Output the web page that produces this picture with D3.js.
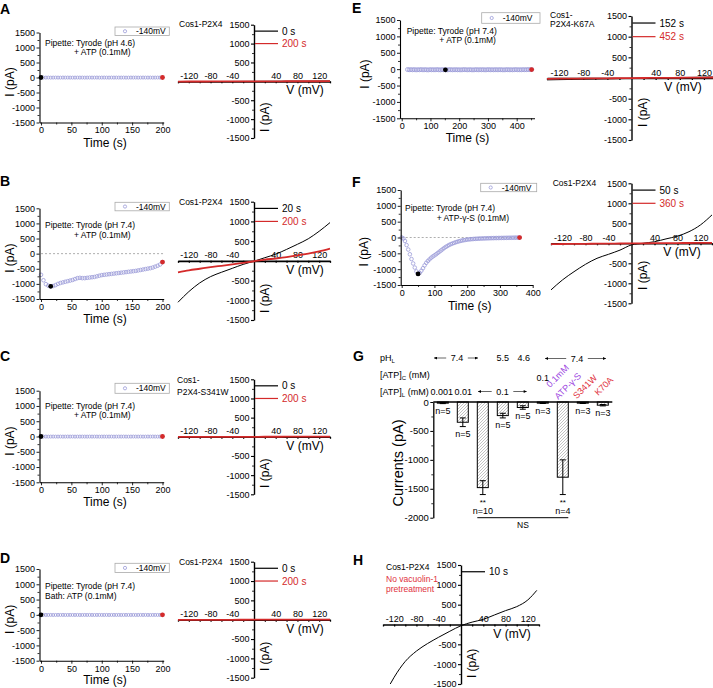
<!DOCTYPE html>
<html><head><meta charset="utf-8">
<script src="https://cdn.jsdelivr.net/npm/d3@7"></script>
<style>body{margin:0;background:#fff}svg{display:block}text{font-family:Arial,"Liberation Sans",Helvetica,sans-serif}</style>
</head><body><svg id="fig" width="713" height="688"></svg>
<script>
// ---------------- DATA ----------------
const times200 = [0,4,8,12,16,20,24,28,32,36,40,44,48,52,56,60,64,68,72,76,80,84,88,92,96,100,104,108,112,116,120,124,128,132,136,140,144,148,152,156,160,164,168,172,176,180,184,188,192,196,200];
const A_current = [0,-2,-3,-2,-4,-3,-2,-3,-4,-2,-3,-2,-3,-4,-3,-2,-3,-2,-4,-3,-2,-3,-3,-2,-4,-3,-2,-3,-4,-2,-3,-2,-3,-3,-2,-4,-3,-2,-3,-2,-4,-3,-2,-3,-3,-2,-4,-3,-2,-3,0];
const B_current = [-700,-880,-1010,-1060,-1080,-1070,-1040,-1000,-970,-950,-930,-910,-890,-870,-840,-810,-800,-810,-810,-800,-790,-780,-770,-750,-730,-710,-700,-690,-680,-670,-660,-650,-640,-630,-620,-610,-600,-590,-580,-570,-555,-540,-525,-510,-495,-480,-460,-430,-400,-360,-280];
const C_current = [0,-3,-2,-4,-3,-2,-3,-3,-2,-4,-3,-2,-3,-2,-4,-3,-3,-2,-3,-4,-2,-3,-2,-3,-4,-3,-2,-3,-3,-2,-4,-3,-2,-3,-2,-3,-4,-3,-2,-3,-3,-2,-4,-3,-2,-3,-2,-3,-4,-3,0];
const D_current = [0,-2,-3,-3,-2,-4,-3,-2,-3,-2,-4,-3,-2,-3,-3,-2,-4,-3,-2,-3,-2,-3,-4,-3,-2,-3,-3,-2,-4,-3,-2,-3,-2,-4,-3,-2,-3,-3,-2,-4,-3,-2,-3,-2,-3,-4,-3,-2,-3,-3,0];
const E_time = [20,26,32,38,44,50,56,62,68,74,80,86,92,98,104,110,116,122,128,134,140,146,152,158,164,170,176,182,188,194,200,206,212,218,224,230,236,242,248,254,260,266,272,278,284,290,296,302,308,314,320,326,332,338,344,350,356,362,368,374,380,386,392,398,404,410,416,422,428,434,440,446,452];
const E_current = [-12,-18,-15,-20,-14,-22,-17,-19,-13,-21,-16,-18,-24,-15,-19,-17,-20,-14,-18,-22,-16,-19,-20,-23,-17,-15,-21,-18,-16,-20,-19,-22,-17,-14,-18,-21,-16,-19,-23,-18,-15,-20,-17,-19,-16,-22,-18,-14,-20,-17,-21,-15,-19,-18,-16,-20,-22,-17,-15,-19,-18,-21,-16,-14,-19,-17,-20,-15,-18,-16,-13,-15,-12];
const F_time = [0,5,10,15,20,25,30,35,40,45,50,55,60,65,70,75,80,85,90,95,100,105,110,115,120,125,130,135,140,145,150,155,160,165,170,175,180,185,190,195,200,205,210,215,220,225,230,235,240,245,250,255,260,265,270,275,280,285,290,295,300,305,310,315,320,325,330,335,340,345,350,355,360];
const F_current = [0,-30,-110,-240,-380,-530,-680,-820,-950,-1070,-1150,-1120,-1050,-970,-880,-800,-740,-690,-640,-600,-565,-530,-490,-450,-410,-370,-330,-295,-265,-235,-210,-190,-170,-150,-135,-120,-105,-95,-85,-75,-67,-60,-55,-50,-46,-42,-39,-36,-33,-31,-29,-27,-25,-23,-22,-20,-19,-18,-17,-16,-15,-14,-13,-12,-11,-10,-9,-8,-7,-6,-5,-4,-3];

// marked sweeps (black = early I-V, red = late I-V), in seconds
const A_marks = [0, 200], B_marks = [16, 200], C_marks = [0, 200], D_marks = [0, 200], E_marks = [152, 452], F_marks = [50, 360];

// I-V ramps (mV, pA)
const ivVoltage = [-140,-120,-100,-80,-60,-40,-20,0,20,40,60,80,100,120,140];
const A_ivEarly = [-10,-8,-7,-5,-4,-3,-1,0,1,2,3,4,5,6,8];
const A_ivLate  = [-5,-4,-4,-3,-2,-2,-1,0,1,1,2,2,3,3,4];
const B_ivEarly = [-1050,-780,-560,-400,-290,-190,-90,-10,80,170,290,420,560,750,970];
const B_ivLate  = [-290,-240,-200,-160,-125,-90,-50,-10,30,60,95,140,185,240,310];
const C_ivEarly = [-8,-7,-6,-5,-4,-3,-1,0,1,2,3,4,5,6,7];
const C_ivLate  = [-4,-4,-3,-3,-2,-2,-1,0,1,1,2,2,3,3,4];
const D_ivEarly = [-9,-8,-6,-5,-4,-3,-1,0,1,2,3,4,5,6,7];
const D_ivLate  = [-5,-4,-3,-3,-2,-2,-1,0,1,1,2,2,3,3,4];
const E_ivEarly = [-45,-40,-35,-30,-25,-20,-15,-10,-5,0,5,10,15,20,25];
const E_ivLate  = [-20,-17,-15,-12,-10,-7,-5,-2,0,2,4,6,8,10,12];
const F_ivEarly = [-1165,-915,-710,-525,-375,-275,-170,-40,0,40,110,180,290,460,710];
const F_ivLate  = [-20,-17,-15,-12,-10,-7,-5,-2,0,2,4,6,8,10,12];
const H_ivVoltage = [-127,-120,-100,-80,-60,-40,-20,0,20,40,60,80,100,120,136];
const H_iv = [-1500,-1330,-930,-670,-480,-320,-170,-30,60,130,240,350,450,620,860];

// tick labels
const timeYTicks = [-1500,-1000,-500,0,500,1000,1500];
const timeYMinor = [-1250,-750,-250,250,750,1250];
const ivYTicks = [-1500,-1000,-500,500,1000,1500];
const ivXTicks = [-120,-80,-40,40,80,120];
const ivXMinor = [-140,-120,-100,-80,-60,-40,-20,20,40,60,80,100,120,140];
const t200Ticks = [0,50,100,150,200], t200Minor = [25,75,125,175];
const t400Ticks = [0,100,200,300,400], t400Minor = [50,150,250,350,450];

// panel G
const gCategories = ["0.001","0.01","0.1","pH5.5","pH4.6","ATPc","ATPgS","S341W","K70A"];
const gMeans  = [-20,-350,-1480,-235,-95,-20,-1300,-20,-55];
const gErrors = [8,75,120,40,30,6,300,6,12];
const gN      = [5,5,10,5,5,3,4,3,3];
const gSig    = ["","","**","","","","**","",""];
const gYTicks = [-2000,-1500,-1000,-500,0];
const gYMinor = [-1750,-1250,-750,-250];
const gPH    = ["7.4","5.5","4.6","7.4"];
const gATPc  = ["0.1"];
const gATPl  = ["0.001","0.01","0.1"];

// ---------------- DRAW ----------------
const svg = d3.select('#fig');
const FONT = 'Arial, "Liberation Sans", Helvetica, sans-serif';
const BLUE = '#9a9ad8', RED = '#d42a2a', PURPLE = '#9b3fe0', LRED = '#e0303c';
const fmt = d => String(d);

function styleAxis(sel, fs, sw) {
  sel.attr('font-family', FONT).attr('font-size', fs);
  sel.select('.domain').attr('stroke-width', sw);
  sel.selectAll('.tick line').attr('stroke-width', Math.max(0.8, sw * 0.8));
}
function txt(g, x, y, s, fs, opts = {}) {
  const t = g.append('text').attr('x', x).attr('y', y).attr('font-size', fs).text(s);
  if (opts.anchor) t.attr('text-anchor', opts.anchor);
  if (opts.fill) t.attr('fill', opts.fill);
  if (opts.weight) t.attr('font-weight', opts.weight);
  return t;
}

function drawTime(c) {
  const x = d3.scaleLinear().domain(c.xDomain).range([c.x0, c.x1]);
  const y = d3.scaleLinear().domain([-1500, 1500]).range([c.yBot, c.yTop]);
  const g = svg.append('g');
  if (c.zeroTo !== undefined) {
    g.append('line').attr('x1', x(0)).attr('x2', x(c.zeroTo)).attr('y1', y(0)).attr('y2', y(0))
      .attr('stroke', '#999').attr('stroke-width', 0.8).attr('stroke-dasharray', '2,2');
  }
  const pts = c.t.map((t, i) => ({ t, v: c.v[i] }));
  g.append('g').selectAll('circle').data(pts).join('circle')
    .attr('cx', d => x(d.t)).attr('cy', d => y(d.v)).attr('r', c.r)
    .attr('fill', 'none').attr('stroke', BLUE).attr('stroke-width', 0.8);
  [[c.marks[0], '#000'], [c.marks[1], RED]].forEach(([tm, col]) => {
    const i = c.t.indexOf(tm);
    g.append('circle').attr('cx', x(tm)).attr('cy', y(c.v[i])).attr('r', 2.4).attr('fill', col);
  });
  const ya = g.append('g').attr('transform', `translate(${c.x0},0)`)
    .call(d3.axisLeft(y).tickValues(timeYTicks).tickFormat(fmt).tickSize(3).tickSizeOuter(0).tickPadding(1.5));
  styleAxis(ya, 9, 1.1);
  g.append('g').attr('transform', `translate(${c.x0},0)`)
    .call(d3.axisLeft(y).tickValues(timeYMinor).tickFormat('').tickSize(2).tickSizeOuter(0))
    .call(s => { s.select('.domain').remove(); s.selectAll('line').attr('stroke-width', 0.8); });
  const xa = g.append('g').attr('transform', `translate(0,${c.yBot})`)
    .call(d3.axisBottom(x).tickValues(c.xTicks).tickFormat(fmt).tickSize(3).tickSizeOuter(0).tickPadding(1.5));
  styleAxis(xa, 9, 1.1);
  g.append('g').attr('transform', `translate(0,${c.yBot})`)
    .call(d3.axisBottom(x).tickValues(c.xMinor).tickFormat('').tickSize(2).tickSizeOuter(0))
    .call(s => { s.select('.domain').remove(); s.selectAll('line').attr('stroke-width', 0.8); });
  // legend box
  const L = c.leg;
  g.append('rect').attr('x', L[0]).attr('y', L[1]).attr('width', L[2] - L[0]).attr('height', L[3] - L[1])
    .attr('fill', '#fff').attr('stroke', '#aaa').attr('stroke-width', 0.8);
  const lc = (L[1] + L[3]) / 2;
  g.append('circle').attr('cx', L[0] + 10).attr('cy', lc).attr('r', 1.6).attr('fill', 'none').attr('stroke', BLUE).attr('stroke-width', 0.8);
  txt(g, L[0] + 21, lc + 3, '-140mV', 8.5);
  c.notes.forEach(n => txt(g, n[1], n[2], n[0], 8.5));
  txt(g, c.titleX, c.titleY, 'Time (s)', 12, { anchor: 'middle' });
  g.append('text').attr('transform', `translate(${c.ylabX},${y(c.ylabV)}) rotate(-90)`)
    .attr('text-anchor', 'middle').attr('dy', '0.35em').attr('font-size', 12).text('I (pA)');
}

function drawIV(c) {
  const x = d3.scaleLinear().domain([-140, 140]).range([c.x0, c.x1]);
  const y = d3.scaleLinear().domain([-1500, 1500]).range([c.yBot, c.yTop]);
  const g = svg.append('g');
  const X0 = x(0), Y0 = y(0);
  const ya = g.append('g').attr('transform', `translate(${X0},0)`)
    .call(d3.axisLeft(y).tickValues(ivYTicks).tickFormat(fmt).tickSize(3).tickSizeOuter(0).tickPadding(1.5));
  styleAxis(ya, 9, 1.4);
  g.append('g').attr('transform', `translate(${X0},0)`)
    .call(d3.axisLeft(y).tickValues(timeYMinor).tickFormat('').tickSize(2).tickSizeOuter(0))
    .call(s => { s.select('.domain').remove(); s.selectAll('line').attr('stroke-width', 0.8); });
  const xt = g.append('g').attr('transform', `translate(0,${Y0})`)
    .call(d3.axisBottom(x).tickValues(ivXMinor).tickFormat('').tickSize(2).tickSizeOuter(0));
  styleAxis(xt, 9, 1.6);
  const xl = g.append('g').attr('transform', `translate(0,${Y0})`)
    .call(d3.axisTop(x).tickValues(ivXTicks).tickFormat(fmt).tickSize(0).tickPadding(2.5));
  xl.select('.domain').remove();
  styleAxis(xl, 9, 1);
  const line = d3.line().x(d => x(d[0])).y(d => y(d[1])).curve(d3.curveMonotoneX);
  c.series.forEach(s => {
    g.append('path').attr('d', line(d3.zip(s.V, s.I))).attr('fill', 'none')
      .attr('stroke', s.color).attr('stroke-width', s.w).attr('stroke-linejoin', 'round');
  });
  // legend
  const levels = [1330, 1000];
  c.series.forEach((s, k) => {
    const ly = y(levels[k]);
    g.append('line').attr('x1', X0 + 1).attr('x2', X0 + 24).attr('y1', ly).attr('y2', ly)
      .attr('stroke', s.color).attr('stroke-width', 1.2);
    txt(g, X0 + 28, ly + 3.5, s.label, 10, { fill: s.color === '#000' ? '#000' : RED });
  });
  txt(g, c.vx, Y0 + 13, 'V (mV)', 12, { anchor: 'middle' });
  g.append('text').attr('transform', `translate(${X0 + 11},${y(c.ilabV)}) rotate(-90)`)
    .attr('text-anchor', 'middle').attr('dy', '0.35em').attr('font-size', 12).text('I (pA)');
  c.title.forEach(tl => txt(g, c.titleX, tl[2], tl[0], 8.5, { fill: tl[1] }));
}

function ivSeries(early, late, labels) {
  const s = [{ V: ivVoltage, I: early, color: '#000', w: 1, label: labels[0] }];
  if (late) s.push({ V: ivVoltage, I: late, color: RED, w: 1.8, label: labels[1] });
  return s;
}

// ---- column 1 ----
drawTime({ x0: 39.5, x1: 163.7, xDomain: [-2.5, 202], yTop: 32.5, yBot: 122.5, xTicks: t200Ticks, xMinor: t200Minor,
  t: times200, v: A_current, marks: A_marks, r: 1.5, leg: [115, 27, 169.3, 35.5],
  notes: [['Pipette: Tyrode (pH 4.6)', 45, 46], ['+ ATP (0.1mM)', 74, 55]], titleX: 105, titleY: 147, ylabX: 10, ylabV: -150 });
drawIV({ x0: 178, x1: 330, yTop: 24.7, yBot: 138, series: ivSeries(A_ivEarly, A_ivLate, ['0 s', '200 s']),
  vx: 305, ilabV: -950, titleX: 179, title: [['Cos1-P2X4', '#000', 27]] });

drawTime({ x0: 39.5, x1: 163.7, xDomain: [-2.5, 202], yTop: 208.3, yBot: 299, xTicks: t200Ticks, xMinor: t200Minor,
  t: times200, v: B_current, marks: B_marks, r: 1.8, leg: [115, 202.3, 169.3, 210.8], zeroTo: 202,
  notes: [['Pipette: Tyrode (pH 7.4)', 45, 228], ['+ ATP (0.1mM)', 74, 238]], titleX: 105, titleY: 322.5, ylabX: 10, ylabV: -150 });
drawIV({ x0: 178, x1: 330, yTop: 201.7, yBot: 320, series: ivSeries(B_ivEarly, B_ivLate, ['20 s', '200 s']),
  vx: 305, ilabV: -950, titleX: 179, title: [['Cos1-P2X4', '#000', 205]] });

drawTime({ x0: 39.5, x1: 163.7, xDomain: [-2.5, 202], yTop: 390.7, yBot: 482.3, xTicks: t200Ticks, xMinor: t200Minor,
  t: times200, v: C_current, marks: C_marks, r: 1.5, leg: [115, 383.3, 169.3, 393.3],
  notes: [['Pipette: Tyrode (pH 7.4)', 45, 409], ['+ ATP (0.1mM)', 74, 418]], titleX: 105, titleY: 506, ylabX: 10, ylabV: -150 });
drawIV({ x0: 178, x1: 330, yTop: 379.3, yBot: 494.3, series: ivSeries(C_ivEarly, C_ivLate, ['0 s', '200 s']),
  vx: 305, ilabV: -950, titleX: 177, title: [['Cos1-', '#000', 383], ['P2X4-S341W', '#000', 395]] });

drawTime({ x0: 39.5, x1: 163.7, xDomain: [-2.5, 202], yTop: 569, yBot: 660.7, xTicks: t200Ticks, xMinor: t200Minor,
  t: times200, v: D_current, marks: D_marks, r: 1.5, leg: [115, 563.3, 169.3, 572.5],
  notes: [['Pipette: Tyrode (pH 7.4)', 45, 588.7], ['Bath: ATP (0.1mM)', 45, 598.7]], titleX: 105, titleY: 684, ylabX: 10, ylabV: -150 });
drawIV({ x0: 178, x1: 330, yTop: 561.7, yBot: 677.7, series: ivSeries(D_ivEarly, D_ivLate, ['0 s', '200 s']),
  vx: 305, ilabV: -950, titleX: 179, title: [['Cos1-P2X4', '#000', 565]] });

// ---- column 2 ----
drawTime({ x0: 400, x1: 534.5, xDomain: [-6, 462], yTop: 20, yBot: 118.3, xTicks: t400Ticks, xMinor: t400Minor,
  t: E_time, v: E_current, marks: E_marks, r: 2, leg: [481.7, 12.7, 540, 23.3],
  notes: [['Pipette: Tyrode (pH 7.4)', 406.7, 34], ['+ ATP (0.1mM)', 439.3, 43]], titleX: 467.5, titleY: 142, ylabX: 365, ylabV: -150 });
drawIV({ x0: 547, x1: 716, yTop: 16, yBot: 140, series: ivSeries(E_ivEarly, E_ivLate, ['152 s', '452 s']),
  vx: 683, ilabV: -830, titleX: 550, title: [['Cos1-', '#000', 18], ['P2X4-K67A', '#000', 26.7]] });

drawTime({ x0: 400.7, x1: 532.7, xDomain: [-3, 400], yTop: 190, yBot: 285, xTicks: t400Ticks.slice(0, 5), xMinor: [50,150,250,350],
  t: F_time, v: F_current, marks: F_marks, r: 1.8, leg: [480.7, 183.3, 536.7, 191.7], zeroTo: 360,
  notes: [['Pipette: Tyrode (pH 7.4)', 405, 211.3], ['+ ATP-\u03b3-S (0.1mM)', 436.7, 220.7]], titleX: 469.7, titleY: 309.5, ylabX: 364, ylabV: -450 });
drawIV({ x0: 551, x1: 712, yTop: 183.3, yBot: 303.3, series: ivSeries(F_ivEarly, F_ivLate, ['50 s', '360 s']),
  vx: 682, ilabV: -800, titleX: 552.7, title: [['Cos1-P2X4', '#000', 186]] });

drawIV({ x0: 383, x1: 539, yTop: 565, yBot: 684,
  series: [{ V: H_ivVoltage, I: H_iv, color: '#000', w: 1, label: '10 s' }],
  vx: 512, ilabV: -980, titleX: 386, title: [['Cos1-P2X4', '#000', 569.5], ['No vacuolin-1', LRED, 582], ['pretreatment', LRED, 592]] });

// ---- panel G ----
(function () {
  const g = svg.append('g');
  const defs = svg.append('defs');
  const pat = defs.append('pattern').attr('id', 'hatch').attr('patternUnits', 'userSpaceOnUse').attr('width', 3).attr('height', 3);
  pat.append('rect').attr('width', 3).attr('height', 3).attr('fill', '#fff');
  pat.append('path').attr('d', 'M-1,1 l2,-2 M0,3 l3,-3 M2,4 l2,-2').attr('stroke', '#9a9a9a').attr('stroke-width', 0.6);
  defs.append('marker').attr('id', 'arr').attr('viewBox', '0 0 6 6').attr('refX', 6).attr('refY', 3)
    .attr('markerUnits', 'userSpaceOnUse').attr('markerWidth', 4).attr('markerHeight', 3).attr('orient', 'auto')
    .append('path').attr('d', 'M0,0 L6,3 L0,6 z').attr('fill', '#000');

  const xb = d3.scaleBand().domain(gCategories).range([433.3, 612.3]).paddingInner(0.45).paddingOuter(0.2);
  const yb = d3.scaleLinear().domain([-2000, 0]).range([517.7, 402]);
  const bw = xb.bandwidth();
  const cx = i => xb(gCategories[i]) + bw / 2;
  const rows = gCategories.map((c, i) => ({ c, i, m: gMeans[i], e: gErrors[i], n: gN[i], s: gSig[i] }));

  g.selectAll('rect.bar').data(rows).join('rect')
    .attr('x', d => xb(d.c)).attr('y', yb(0)).attr('width', bw).attr('height', d => Math.max(1, yb(d.m) - yb(0)))
    .attr('fill', 'url(#hatch)').attr('stroke', '#000').attr('stroke-width', 1);
  // error bars
  rows.forEach(d => {
    const x = cx(d.i), y1 = yb(d.m + d.e), y2 = yb(d.m - d.e);
    g.append('line').attr('x1', x).attr('x2', x).attr('y1', y1).attr('y2', y2).attr('stroke', '#000').attr('stroke-width', 1);
    [y1, y2].forEach(yy => g.append('line').attr('x1', x - 3).attr('x2', x + 3).attr('y1', yy).attr('y2', yy).attr('stroke', '#000').attr('stroke-width', 1));
    const base = yb(d.m - d.e);
    if (d.s) {
      txt(g, x, base + 10.5, d.s, 8, { anchor: 'middle' });
      txt(g, x, base + 19.5, 'n=' + d.n, 9, { anchor: 'middle' });
    } else {
      txt(g, x, Math.max(base + 10, 414), 'n=' + d.n, 9, { anchor: 'middle' });
    }
  });
  // axes
  g.append('line').attr('x1', 433.3).attr('x2', 612.3).attr('y1', yb(0)).attr('y2', yb(0)).attr('stroke', '#000').attr('stroke-width', 1.3);
  const ya = g.append('g').attr('transform', 'translate(433.3,0)')
    .call(d3.axisLeft(yb).tickValues(gYTicks).tickFormat(fmt).tickSize(3).tickSizeOuter(0).tickPadding(1.5));
  styleAxis(ya, 9.5, 1.3);
  g.append('g').attr('transform', 'translate(433.3,0)')
    .call(d3.axisLeft(yb).tickValues(gYMinor).tickFormat('').tickSize(2).tickSizeOuter(0))
    .call(s => { s.select('.domain').remove(); s.selectAll('line').attr('stroke-width', 0.8); });
  g.append('text').attr('transform', 'translate(398,463) rotate(-90)').attr('text-anchor', 'middle').attr('dy', '0.35em')
    .attr('font-size', 14.5).text('Currents (pA)');
  // NS
  g.append('line').attr('x1', xb(gCategories[2])).attr('x2', xb(gCategories[6]) + bw).attr('y1', yb(-2000)).attr('y2', yb(-2000))
    .attr('stroke', '#000').attr('stroke-width', 1);
  txt(g, 523, 528, 'NS', 8.5, { anchor: 'middle' });

  // header rows
  function subLabel(y, main, sub, rest) {
    const t = g.append('text').attr('x', 380).attr('y', y).attr('font-size', 9);
    t.append('tspan').text(main);
    t.append('tspan').attr('font-size', 6).attr('dy', 2).text(sub);
    t.append('tspan').attr('dy', -2).text(rest);
  }
  subLabel(360.5, 'pH', 'L', '');
  subLabel(377.5, '[ATP]', 'C', ' (mM)');
  subLabel(394.7, '[ATP]', 'L', ' (mM)');
  function arrowGroup(label, left, right, y, mid) {
    const c = mid !== undefined ? mid : (left + right) / 2;
    const hw = label.length * 2.6 + 3;
    txt(g, c, y + 3, label, 9, { anchor: 'middle' });
    g.append('line').attr('x1', c - hw).attr('x2', left).attr('y1', y).attr('y2', y).attr('stroke', '#000').attr('stroke-width', 0.6).attr('marker-end', 'url(#arr)');
    g.append('line').attr('x1', c + hw).attr('x2', right).attr('y1', y).attr('y2', y).attr('stroke', '#000').attr('stroke-width', 0.6).attr('marker-end', 'url(#arr)');
  }
  // pH row
  arrowGroup(gPH[0], 434, 478, 358, 457);
  txt(g, cx(3), 361, gPH[1], 9, { anchor: 'middle' });
  txt(g, cx(4) + 1, 361, gPH[2], 9, { anchor: 'middle' });
  arrowGroup(gPH[3], 545, 606, 358.5, 577);
  // ATPc row
  txt(g, cx(5), 380.7, gATPc[0], 9, { anchor: 'middle' });
  // ATPl row
  txt(g, cx(0) - 1, 394.5, gATPl[0], 9, { anchor: 'middle' });
  txt(g, cx(1) + 0.5, 394.5, gATPl[1], 9, { anchor: 'middle' });
  arrowGroup(gATPl[2], 478, 526.7, 391.5, 502.5);
  // rotated labels
  const rot = [[6, -12.8, 388, '0.1mM', PURPLE], [6, -4.5, 400, 'ATP-\u03b3-S', PURPLE], [7, -6, 399.3, 'S341W', LRED], [8, -4.5, 396, 'K70A', LRED]];
  rot.forEach(r => g.append('text').attr('transform', `translate(${cx(r[0]) + r[1]},${r[2]}) rotate(-45)`)
    .attr('font-size', 9).attr('fill', r[4]).text(r[3]));
})();

// panel letters
[['A', 0, 13.5], ['B', 0, 186], ['C', 0, 361], ['D', 0, 563], ['E', 352, 13], ['F', 352, 187], ['G', 353, 361], ['H', 353, 565]]
  .forEach(p => txt(svg, p[1], p[2], p[0], 14, { weight: 'bold' }));
</script></body></html>
